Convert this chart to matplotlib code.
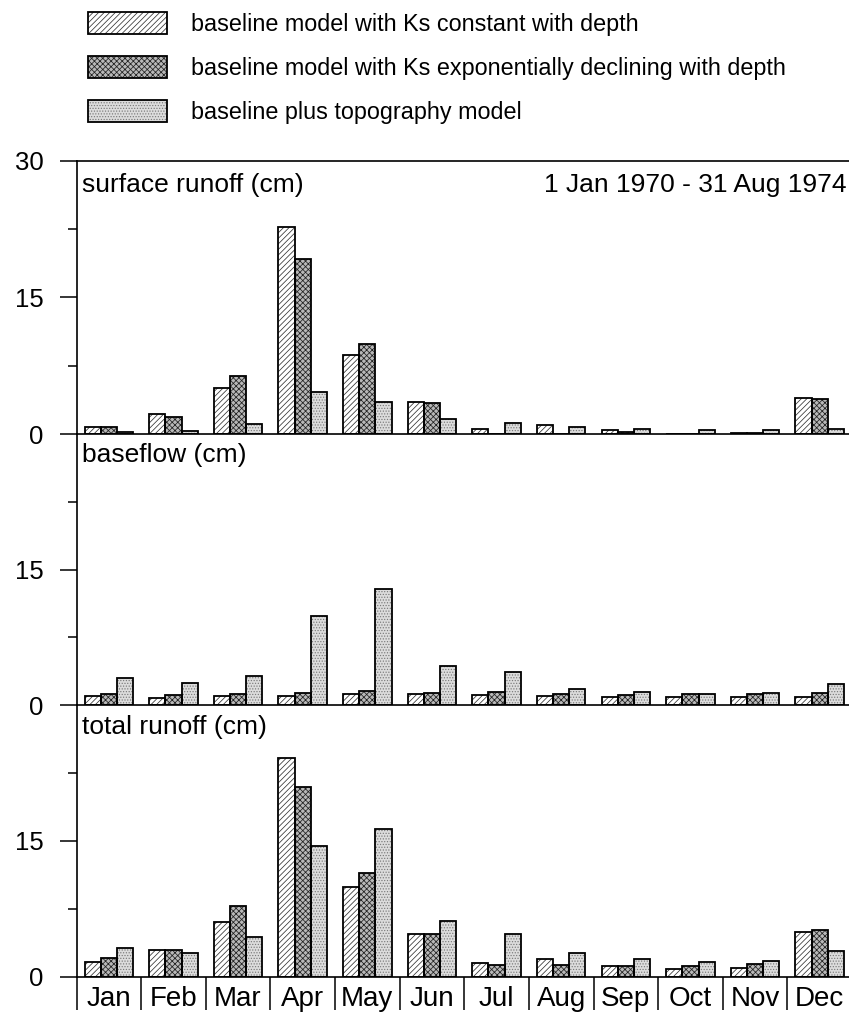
import matplotlib
matplotlib.use("Agg")
import matplotlib.pyplot as plt
import numpy as np
from matplotlib.patches import Patch
from matplotlib.legend_handler import HandlerTuple

plt.rcParams["font.family"] = ["Liberation Sans", "DejaVu Sans"]
plt.rcParams["hatch.linewidth"] = 0.55

# Monthly means, 1 Jan 1970 - 31 Aug 1974 (cm)
months = ["Jan", "Feb", "Mar", "Apr", "May", "Jun",
          "Jul", "Aug", "Sep", "Oct", "Nov", "Dec"]

series_labels = [
    "baseline model with Ks constant with depth",
    "baseline model with Ks exponentially declining with depth",
    "baseline plus topography model",
]

surface_const = [0.8, 2.2, 5.0, 22.7, 8.7, 3.55, 0.55, 1.0, 0.4, 0.0, 0.15, 4.0]
surface_exp = [0.8, 1.9, 6.4, 19.2, 9.9, 3.4, 0.0, 0.0, 0.2, 0.0, 0.15, 3.8]
surface_topo = [0.2, 0.35, 1.15, 4.6, 3.55, 1.7, 1.2, 0.8, 0.6, 0.4, 0.4, 0.55]

baseflow_const = [1.0, 0.8, 1.0, 1.0, 1.2, 1.2, 1.1, 0.95, 0.9, 0.85, 0.85, 0.85]
baseflow_exp = [1.25, 1.15, 1.25, 1.35, 1.55, 1.35, 1.4, 1.25, 1.15, 1.2, 1.2, 1.3]
baseflow_topo = [3.0, 2.4, 3.25, 9.8, 12.8, 4.35, 3.6, 1.8, 1.4, 1.2, 1.35, 2.35]

total_const = [1.65, 3.0, 6.05, 24.2, 9.9, 4.7, 1.5, 1.9, 1.2, 0.85, 1.0, 4.9]
total_exp = [2.1, 2.95, 7.8, 20.9, 11.5, 4.7, 1.3, 1.3, 1.2, 1.2, 1.45, 5.15]
total_topo = [3.2, 2.65, 4.4, 14.4, 16.3, 6.2, 4.7, 2.65, 2.0, 1.65, 1.75, 2.85]

panel_titles = ["surface runoff (cm)", "baseflow (cm)", "total runoff (cm)"]
period_text = "1 Jan 1970 - 31 Aug 1974"

panel_data = [
    (surface_const, surface_exp, surface_topo),
    (baseflow_const, baseflow_exp, baseflow_topo),
    (total_const, total_exp, total_topo),
]

# fill / hatch styling for the three model runs
styles = [
    dict(face="white", hatch="//////", hcolor="#333333"),
    dict(face="#b8b8b8", hatch="xxxxxx", hcolor="#222222"),
    dict(face="#dcdcdc", hatch="......", hcolor="#7a7a7a"),
]

W, H = 849, 1013
fig = plt.figure(figsize=(W / 100, H / 100), dpi=100)

left = 76.5 / W
width = (852 - 76.5) / W
panel_px = [(161, 434), (434, 705), (705, 976.7)]
title_y = [0.886, 0.898, 0.893]

x = np.arange(len(months))
bw = 0.25
offsets = [-bw, 0.0, bw]

for i, ((top, bot), data) in enumerate(zip(panel_px, panel_data)):
    ax = fig.add_axes([left, 1 - bot / H, width, (bot - top) / H])
    for vals, off, st in zip(data, offsets, styles):
        ax.bar(x + off, vals, bw, color=st["face"], edgecolor=st["hcolor"],
               hatch=st["hatch"], linewidth=0, zorder=2)
        ax.bar(x + off, vals, bw, fill=False, edgecolor="black",
               linewidth=1.3, zorder=3)

    ax.set_xlim(-0.5, 11.5)
    ax.set_ylim(0, 30)
    ax.set_yticks([0, 15, 30] if i == 0 else [0, 15])
    ax.set_yticks([7.5, 22.5], minor=True)
    ax.tick_params(axis="y", which="major", direction="out", length=12.2,
                   width=1.1, labelsize=18.5, pad=11.5)
    ax.tick_params(axis="y", which="minor", direction="out", length=6.5,
                   width=1.1)
    ax.spines["right"].set_visible(False)
    ax.spines["top"].set_visible(i == 0)
    for s in ("left", "top", "bottom"):
        ax.spines[s].set_linewidth(1.2)
        ax.spines[s].set_zorder(4)
    ax.patch.set_visible(False)

    ax.text(0.007, title_y[i], panel_titles[i], transform=ax.transAxes,
            fontsize=19, ha="left", va="baseline")
    if i == 0:
        ax.text(0.993, title_y[i], period_text, transform=ax.transAxes,
                fontsize=19, ha="right", va="baseline")

    if i < 2:
        ax.tick_params(axis="x", which="both", bottom=False, labelbottom=False)
    else:
        ax.set_xticks(x)
        ax.set_xticklabels(months)
        ax.set_xticks(np.arange(-0.5, 12, 1.0), minor=True)
        ax.tick_params(axis="x", which="major", length=0, labelsize=20, pad=6.5)
        ax.tick_params(axis="x", which="minor", direction="out", length=24,
                       width=1.1)

handles = [
    (Patch(facecolor=st["face"], edgecolor=st["hcolor"], hatch=st["hatch"], linewidth=0),
     Patch(fill=False, edgecolor="black", linewidth=1.3))
    for st in styles
]
fig.legend(handles, series_labels, loc="upper left",
           bbox_to_anchor=(88 / W, 1 - 12 / H), frameon=False, fontsize=16.8,
           handlelength=3.38, handleheight=1.1, labelspacing=0.85,
           handletextpad=1.05, borderpad=0, borderaxespad=0,
           handler_map={tuple: HandlerTuple(ndivide=1, pad=0)})

fig.savefig("out.png", dpi=100)
